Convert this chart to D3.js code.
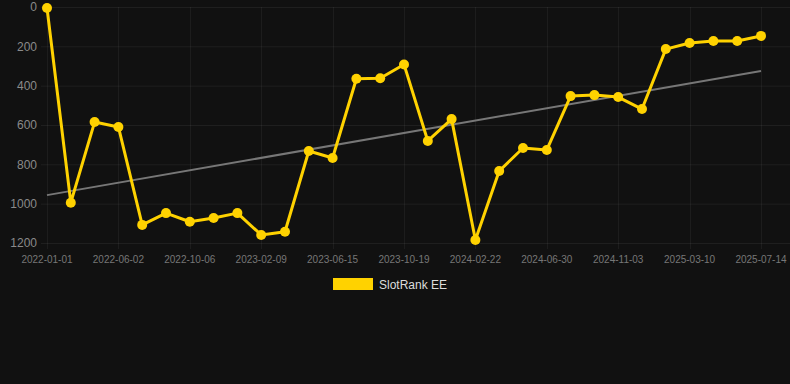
<!DOCTYPE html>
<html>
<head>
<meta charset="utf-8">
<script src="https://cdn.jsdelivr.net/npm/d3@7"></script>
<style>
  html, body { margin: 0; padding: 0; background: #111111; }
  #chart { width: 790px; height: 384px; }
  text { font-family: "Liberation Sans", Arial, sans-serif; }
</style>
</head>
<body>
<div id="chart"></div>
<script>
// Dates (every third one is shown on the axis)
const dates = [
  "2022-01-01", "2022-02-20", "2022-04-11",
  "2022-06-02", "2022-07-14", "2022-08-25",
  "2022-10-06", "2022-11-17", "2022-12-29",
  "2023-02-09", "2023-03-23", "2023-05-04",
  "2023-06-15", "2023-07-27", "2023-09-07",
  "2023-10-19", "2023-11-30", "2024-01-11",
  "2024-02-22", "2024-04-04", "2024-05-17",
  "2024-06-30", "2024-08-11", "2024-09-22",
  "2024-11-03", "2024-12-15", "2025-01-26",
  "2025-03-10", "2025-04-21", "2025-06-02",
  "2025-07-14"
];

// SlotRank EE rank values
const ranks = [
  5, 995, 585, 610, 1108, 1048, 1092, 1073, 1048, 1159, 1143,
  732, 768, 365, 362, 292, 681, 570, 1185, 834, 717,
  727, 453, 448, 458, 519, 214, 183, 173, 173, 147
];

const yTicks = [0, 200, 400, 600, 800, 1000, 1200];
const seriesName = "SlotRank EE";

const width = 790;
const height = 384;
const yellow = "#ffd200";

const svg = d3.select("#chart")
  .append("svg")
  .attr("width", width)
  .attr("height", height);

svg.append("rect")
  .attr("width", width)
  .attr("height", height)
  .attr("fill", "#111111");

const x = d3.scalePoint()
  .domain(dates)
  .range([47, 761]);

const y = d3.scaleLinear()
  .domain([0, 1200])
  .range([7, 243]);

// Grid
const grid = svg.append("g");
grid.selectAll("line.h")
  .data(yTicks)
  .join("line")
  .attr("class", "h")
  .attr("x1", 41)
  .attr("x2", width)
  .attr("y1", d => y(d) + 0.5)
  .attr("y2", d => y(d) + 0.5)
  .attr("stroke", "rgba(255,255,255,0.06)")
  .attr("stroke-width", 1);

const shownDates = dates.filter((d, i) => i % 3 === 0);

grid.selectAll("line.v")
  .data(shownDates)
  .join("line")
  .attr("class", "v")
  .attr("x1", d => Math.round(x(d)) + 0.5)
  .attr("x2", d => Math.round(x(d)) + 0.5)
  .attr("y1", 7)
  .attr("y2", 249)
  .attr("stroke", "rgba(255,255,255,0.05)")
  .attr("stroke-width", 1);

// Y labels
svg.append("g")
  .selectAll("text")
  .data(yTicks)
  .join("text")
  .attr("x", 37)
  .attr("y", d => y(d))
  .attr("dy", "0.35em")
  .attr("text-anchor", "end")
  .attr("fill", "#8a8a8a")
  .attr("font-size", 12)
  .text(d => d);

// X labels
svg.append("g")
  .selectAll("text")
  .data(shownDates)
  .join("text")
  .attr("x", d => x(d))
  .attr("y", 263)
  .attr("text-anchor", "middle")
  .attr("fill", "#777777")
  .attr("font-size", 10)
  .text(d => d);

// Trend line (least squares over the points)
const n = ranks.length;
const meanI = d3.mean(ranks, (d, i) => i);
const meanV = d3.mean(ranks);
const slope = d3.sum(ranks, (d, i) => (i - meanI) * (d - meanV)) /
  d3.sum(ranks, (d, i) => (i - meanI) * (i - meanI));
const intercept = meanV - slope * meanI;

svg.append("line")
  .attr("x1", x(dates[0]))
  .attr("y1", y(intercept))
  .attr("x2", x(dates[n - 1]))
  .attr("y2", y(intercept + slope * (n - 1)))
  .attr("stroke", "#777777")
  .attr("stroke-width", 2);

// Series line
const line = d3.line()
  .x((d, i) => x(dates[i]))
  .y(d => y(d));

svg.append("path")
  .datum(ranks)
  .attr("d", line)
  .attr("fill", "none")
  .attr("stroke", yellow)
  .attr("stroke-width", 3)
  .attr("stroke-linejoin", "round");

svg.append("g")
  .selectAll("circle")
  .data(ranks)
  .join("circle")
  .attr("cx", (d, i) => x(dates[i]))
  .attr("cy", d => y(d))
  .attr("r", 5)
  .attr("fill", yellow);

// Legend
const legend = svg.append("g");
legend.append("rect")
  .attr("x", 333)
  .attr("y", 278)
  .attr("width", 40)
  .attr("height", 12)
  .attr("fill", yellow);
legend.append("text")
  .attr("x", 379)
  .attr("y", 285)
  .attr("dy", "0.35em")
  .attr("fill", "#dddddd")
  .attr("font-size", 12)
  .text(seriesName);
</script>
</body>
</html>
